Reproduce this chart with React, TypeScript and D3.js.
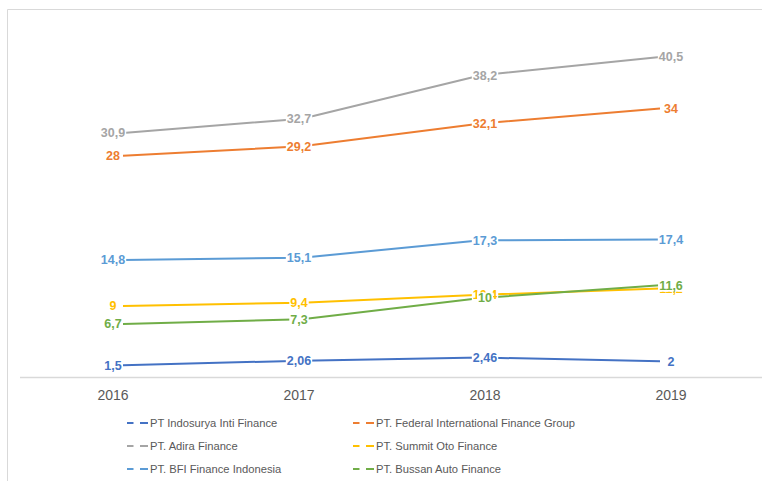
import React, { useEffect, useRef } from 'react';
import * as d3 from 'd3';

const years = ['2016', '2017', '2018', '2019'];
const seriesNames = [
  'PT Indosurya Inti Finance',
  'PT. Federal International Finance Group',
  'PT. Adira Finance',
  'PT. Summit Oto Finance',
  'PT. BFI Finance Indonesia',
  'PT. Bussan Auto Finance',
];
const indosurya = [1.5, 2.06, 2.46, 2];
const federal = [28, 29.2, 32.1, 34];
const adira = [30.9, 32.7, 38.2, 40.5];
const summit = [9, 9.4, 10.4, 11.2];
const bfi = [14.8, 15.1, 17.3, 17.4];
const bussan = [6.7, 7.3, 10, 11.6];
const seriesValues = [indosurya, federal, adira, summit, bfi, bussan];
const colors = ['#4472C4', '#ED7D31', '#A5A5A5', '#FFC000', '#5B9BD5', '#70AD47'];

const W = 762;
const H = 481;

export default function App() {
  const ref = useRef<SVGSVGElement>(null);

  useEffect(() => {
    const svg = d3.select(ref.current);
    svg.selectAll('*').remove();

    const xBand = d3.scaleBand<string>().domain(years).range([20, 764]);
    const xLabel = (y: string) => (xBand(y) as number) + xBand.bandwidth() / 2;
    const xLine = d3.scalePoint<string>().domain(years).range([123, 660]);
    const y = d3.scaleLinear().domain([0, 45]).range([377, 21.5]);

    // frame
    svg.append('path')
      .attr('d', `M7.5,${H} L7.5,9.5 L${W},9.5`)
      .attr('fill', 'none')
      .attr('stroke', '#d9d9d9')
      .attr('stroke-width', 1);

    // x axis line
    svg.append('line')
      .attr('x1', xBand.range()[0]).attr('x2', xBand.range()[1])
      .attr('y1', y(0) + 0.5).attr('y2', y(0) + 0.5)
      .attr('stroke', '#d9d9d9').attr('stroke-width', 1.3);

    // x axis labels
    svg.append('g').selectAll('text').data(years).join('text')
      .attr('x', (d) => xLabel(d))
      .attr('y', 400)
      .attr('text-anchor', 'middle')
      .attr('font-family', '"Liberation Sans", Arial, sans-serif')
      .attr('font-size', 14)
      .attr('fill', '#595959')
      .text((d) => d);

    // lines
    const line = d3.line<number>()
      .x((_, i) => xLine(years[i]) as number)
      .y((v) => y(v));
    seriesValues.forEach((vals, si) => {
      svg.append('path')
        .datum(vals)
        .attr('d', line)
        .attr('fill', 'none')
        .attr('stroke', colors[si])
        .attr('stroke-width', 2)
        .attr('stroke-linejoin', 'round');
    });

    // data labels with white background
    const fmt = (v: number) => String(v).replace('.', ',');
    seriesValues.forEach((vals, si) => {
      vals.forEach((v, i) => {
        const g = svg.append('g');
        const rect = g.append('rect').attr('fill', '#fff');
        const t = g.append('text')
          .attr('x', xLabel(years[i]))
          .attr('y', y(v))
          .attr('dy', '0.35em')
          .attr('text-anchor', 'middle')
          .attr('font-family', '"Liberation Sans", Arial, sans-serif')
          .attr('font-size', 12.5)
          .attr('font-weight', 'bold')
          .attr('fill', colors[si])
          .text(fmt(v));
        const bb = (t.node() as SVGTextElement).getBBox();
        rect.attr('x', bb.x - 1).attr('y', bb.y + 1)
          .attr('width', bb.width + 2).attr('height', bb.height - 2);
      });
    });

    // legend
    const colX = [127, 353];
    const rowY = [423, 446, 469];
    const lg = svg.append('g');
    seriesNames.forEach((name, i) => {
      const cx = colX[i % 2];
      const cy = rowY[Math.floor(i / 2)];
      lg.append('line')
        .attr('x1', cx).attr('x2', cx + 6.5)
        .attr('y1', cy).attr('y2', cy)
        .attr('stroke', colors[i]).attr('stroke-width', 2);
      lg.append('line')
        .attr('x1', cx + 13).attr('x2', cx + 21)
        .attr('y1', cy).attr('y2', cy)
        .attr('stroke', colors[i]).attr('stroke-width', 2);
      lg.append('text')
        .attr('x', cx + 23)
        .attr('y', cy)
        .attr('dy', '0.35em')
        .attr('font-family', '"Liberation Sans", Arial, sans-serif')
        .attr('font-size', 11.2)
        .attr('fill', '#595959')
        .text(name);
    });
  }, []);

  return (
    <svg
      ref={ref}
      width={W}
      height={H}
      style={{ position: 'absolute', left: 0, top: 0, background: '#fff' }}
    />
  );
}
